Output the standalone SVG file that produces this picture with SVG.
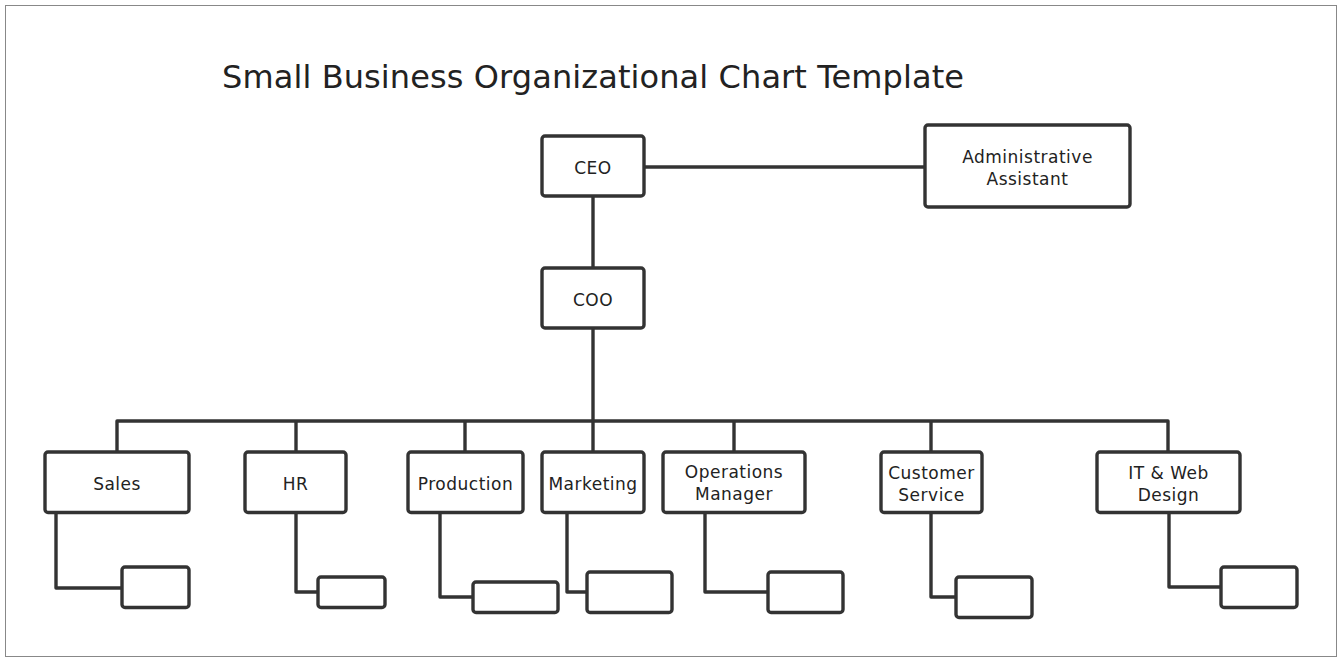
<svg xmlns="http://www.w3.org/2000/svg" width="1342" height="662" viewBox="0 0 1342 662">
<style>
.node rect{fill:#fff;stroke:#333;stroke-width:3.4}
.node text{font-family:"DejaVu Sans",Verdana,sans-serif;font-size:17px;letter-spacing:0.5px;fill:#222;text-anchor:middle}
#connectors path{fill:none;stroke:#333;stroke-width:3.4;stroke-linejoin:round}
.title{font-family:"DejaVu Sans",Verdana,sans-serif;font-size:32px;letter-spacing:0.1px;fill:#222}
</style>
<rect x="5.5" y="5.5" width="1331" height="651" fill="#fff" stroke="#888" stroke-width="1"/>
<text class="title" x="222" y="88">Small Business Organizational Chart Template</text>
<g id="connectors">
<path d="M644,167 H925"/>
<path d="M593,196 V268"/>
<path d="M593,328 V452"/>
<path d="M117,452 V421 H1168 V452"/>
<path d="M296,421 V452"/>
<path d="M465,421 V452"/>
<path d="M734,421 V452"/>
<path d="M931,421 V452"/>
<path d="M56,513 V588 H122"/>
<path d="M296,513 V592 H318"/>
<path d="M440,513 V597 H473"/>
<path d="M567,513 V592 H587"/>
<path d="M705,513 V592 H768"/>
<path d="M931,513 V597 H956"/>
<path d="M1169,513 V587 H1221"/>
</g>
<g id="ceo" class="node"><rect x="542" y="136" width="102" height="60" rx="3"/><text x="593" y="174">CEO</text></g>
<g id="admin" class="node"><rect x="925" y="125" width="205" height="82" rx="3"/><text x="1027.5" y="163">Administrative</text><text x="1027.5" y="185">Assistant</text></g>
<g id="coo" class="node"><rect x="542" y="268" width="102" height="60" rx="3"/><text x="593" y="306">COO</text></g>
<g id="sales" class="node"><rect x="45" y="452" width="144" height="60.5" rx="3"/><text x="117" y="490">Sales</text></g>
<g id="hr" class="node"><rect x="245" y="452" width="101" height="60.5" rx="3"/><text x="295.5" y="490">HR</text></g>
<g id="production" class="node"><rect x="408" y="452" width="115" height="60.5" rx="3"/><text x="465.5" y="490">Production</text></g>
<g id="marketing" class="node"><rect x="542" y="452" width="102" height="60.5" rx="3"/><text x="593" y="490">Marketing</text></g>
<g id="operations" class="node"><rect x="663" y="452" width="142" height="60.5" rx="3"/><text x="734" y="478">Operations</text><text x="734" y="500">Manager</text></g>
<g id="customer" class="node"><rect x="881" y="452" width="101" height="60.5" rx="3"/><text x="931.5" y="479">Customer</text><text x="931.5" y="501">Service</text></g>
<g id="itweb" class="node"><rect x="1097" y="452" width="143" height="60.5" rx="3"/><text x="1168.5" y="479">IT &amp; Web</text><text x="1168.5" y="501">Design</text></g>
<g id="sales-sub" class="node"><rect x="122" y="567" width="67" height="40.5" rx="3"/></g>
<g id="hr-sub" class="node"><rect x="318" y="577" width="67" height="30.5" rx="3"/></g>
<g id="production-sub" class="node"><rect x="473" y="582" width="85" height="30.5" rx="3"/></g>
<g id="marketing-sub" class="node"><rect x="587" y="572" width="85" height="40.5" rx="3"/></g>
<g id="operations-sub" class="node"><rect x="768" y="572" width="75" height="40.5" rx="3"/></g>
<g id="customer-sub" class="node"><rect x="956" y="577" width="76" height="40.5" rx="3"/></g>
<g id="itweb-sub" class="node"><rect x="1221" y="567" width="76" height="40.5" rx="3"/></g>
</svg>
